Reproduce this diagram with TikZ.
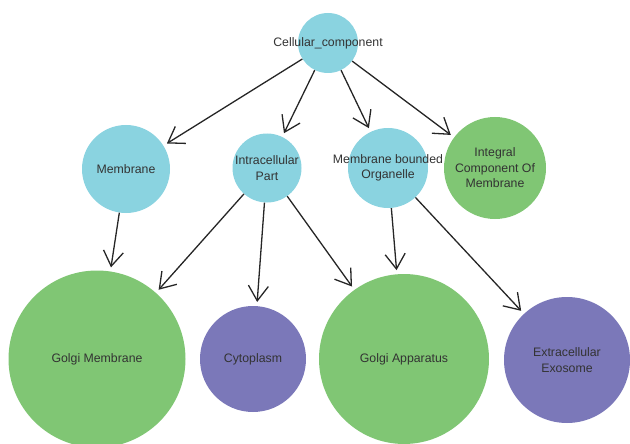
\documentclass[tikz,border=0pt]{standalone}
\usepackage{fontspec}
\setmainfont{Liberation Sans}
\usetikzlibrary{arrows.meta}
\definecolor{termblue}{HTML}{8AD3E0}
\definecolor{termgreen}{HTML}{80C674}
\definecolor{termpurple}{HTML}{7B78B9}
\definecolor{labelgray}{HTML}{333333}

\begin{document}
\begin{tikzpicture}[x=1pt,y=-1pt,
  term/.style={circle,inner sep=0pt,minimum size=#1},
  termtext/.style={inner sep=0pt,align=center,text=labelgray,
    font=\fontsize{12.3}{15.5}\selectfont},
  isa/.style={line width=1.3pt,draw=black!85,
    -{Straight Barb[length=15pt,width=20pt]},shorten >=4pt}]
\useasboundingbox (0,0) rectangle (630,444);

% Terms
\node[term=60pt,fill=termblue,label={[termtext]center:Cellular\_component}]     (cellular-comp) at (328,43)  {};
\node[term=88pt,fill=termblue,label={[termtext]center:Membrane}]                (membrane)      at (126,169) {};
\node[term=69pt,fill=termblue,label={[termtext]center:Intracellular\\Part}]     (intra-part)    at (267,168) {};
\node[term=80pt,fill=termblue,label={[termtext]center:Membrane bounded\\Organelle}] (mb-organelle) at (388,168) {};
\node[term=102pt,fill=termgreen,label={[termtext]center:Integral\\Component Of\\Membrane}] (integral) at (495,168) {};
\node[term=177pt,fill=termgreen,label={[termtext]center:Golgi Membrane}]        (golgi-mem)     at (97,359)  {};
\node[term=106pt,fill=termpurple,label={[termtext]center:Cytoplasm}]            (cytoplasm)     at (253,359) {};
\node[term=170pt,fill=termgreen,label={[termtext]center:Golgi Apparatus}]       (golgi-app)     at (404,359) {};
\node[term=126pt,fill=termpurple,label={[termtext]center:Extracellular\\Exosome}] (exosome)     at (567,360) {};

% Edges
\draw[isa] (cellular-comp) -- (membrane);
\draw[isa] (cellular-comp) -- (intra-part);
\draw[isa] (cellular-comp) -- (mb-organelle);
\draw[isa] (cellular-comp) -- (integral);
\draw[isa] (membrane) -- (golgi-mem);
\draw[isa] (intra-part) -- (golgi-mem);
\draw[isa] (intra-part) -- (cytoplasm);
\draw[isa] (intra-part) -- (golgi-app);
\draw[isa] (mb-organelle) -- (golgi-app);
\draw[isa] (mb-organelle) -- (exosome);

\end{tikzpicture}
\end{document}
